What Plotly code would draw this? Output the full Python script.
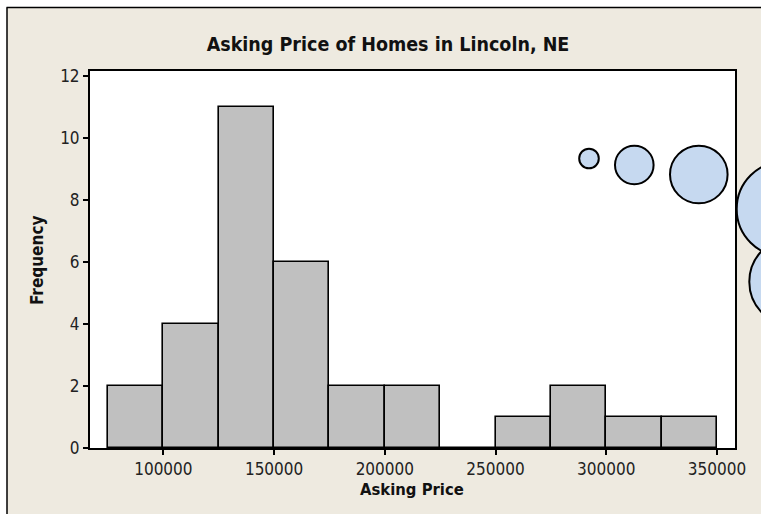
import plotly.graph_objects as go

# ---- data ----
bin_starts = [75000, 100000, 125000, 150000, 175000, 200000, 225000, 250000, 275000, 300000, 325000]
bin_width = 25000
counts = [2, 4, 11, 6, 2, 2, 0, 1, 2, 1, 1]
x_ticks = [100000, 150000, 200000, 250000, 300000, 350000]
y_ticks = [0, 2, 4, 6, 8, 10, 12]
title_text = "Asking Price of Homes in Lincoln, NE"
x_title = "Asking Price"
y_title = "Frequency"

# ---- style ----
W, H = 761, 514
L, R, T, B = 90, 26, 71, 66
BEIGE = "#EEEAE0"
FONT = "DejaVu Sans Condensed, Liberation Sans, sans-serif"
PW, PH = W - L - R, H - T - B

centers = [s + bin_width / 2 for s in bin_starts]

fig = go.Figure()
fig.add_trace(go.Bar(
    x=centers, y=counts, width=[bin_width] * len(counts),
    marker=dict(color="#C0C0C0", line=dict(color="black", width=1.6)),
    hoverinfo="x+y",
))

def px_rect(x0, y0, x1, y1, **kw):
    """rectangle/circle in page pixel coords (origin top-left)"""
    return dict(xref="paper", yref="paper", xsizemode="pixel", ysizemode="pixel",
                xanchor=0, yanchor=0,
                x0=x0 - L, x1=x1 - L, y0=(H - B) - y1, y1=(H - B) - y0, **kw)

shapes = []
# white margin outside the window frame + frame lines
shapes.append(px_rect(0, 0, 7, H, type="rect", fillcolor="white", line=dict(width=0), layer="below"))
shapes.append(px_rect(0, 0, W, 7, type="rect", fillcolor="white", line=dict(width=0), layer="below"))
shapes.append(px_rect(7, 7.5, 7, H, type="line", line=dict(color="black", width=1.5)))
shapes.append(px_rect(6.5, 7.5, W, 7.5, type="line", line=dict(color="black", width=1.5)))

# decorative bubbles (cx, cy, r) in page pixels
bubbles = [(589, 158.5, 9.8), (634.3, 165, 19.3), (698.8, 174.5, 28.8),
           (784.4, 209, 47.7), (793.6, 281.7, 44.3)]
for cx, cy, r in bubbles:
    shapes.append(px_rect(cx - r, cy - r, cx + r, cy + r, type="circle",
                          fillcolor="#C6D9F0", line=dict(color="black", width=2), layer="above"))

fig.update_layout(
    width=W, height=H,
    margin=dict(l=L, r=R, t=T, b=B, pad=0),
    paper_bgcolor=BEIGE, plot_bgcolor="white",
    showlegend=False, bargap=0,
    font=dict(family=FONT, color="#222222", size=17),
    title=dict(text="<b>" + title_text + "</b>", font=dict(family=FONT, size=19.5, color="#111111"),
               xref="paper", x=(388 - L) / PW, xanchor="center",
               yref="container", y=1 - 44 / H, yanchor="middle"),
    xaxis=dict(range=[66870, 358130], tickvals=x_ticks, ticktext=[str(v) for v in x_ticks],
               ticks="outside", ticklen=5, tickwidth=1.5, tickcolor="black",
               showline=True, linecolor="black", linewidth=2, mirror=True,
               showgrid=False, zeroline=False, tickfont=dict(size=17)),
    yaxis=dict(range=[0, 12.16], tickvals=y_ticks,
               ticks="outside", ticklen=5, tickwidth=1.5, tickcolor="black",
               showline=True, linecolor="black", linewidth=2, mirror=True,
               showgrid=False, zeroline=False, tickfont=dict(size=17)),
    shapes=shapes,
    annotations=[
        dict(text="<b>" + x_title + "</b>", xref="paper", yref="paper", x=(411.7 - L) / PW, y=0,
             xanchor="center", yanchor="middle", yshift=-(489 - (H - B)), showarrow=False,
             font=dict(family=FONT, size=16.5, color="#111111")),
        dict(text="<b>" + y_title + "</b>", xref="paper", yref="paper", x=0, y=(H - B - 261) / PH,
             xanchor="center", yanchor="middle", xshift=-(L - 37), textangle=-90, showarrow=False,
             font=dict(family=FONT, size=17, color="#111111")),
    ],
)

fig.write_html("out.html", config={"displayModeBar": False},
               post_script="document.body.style.margin='0';document.body.style.overflow='hidden';")
